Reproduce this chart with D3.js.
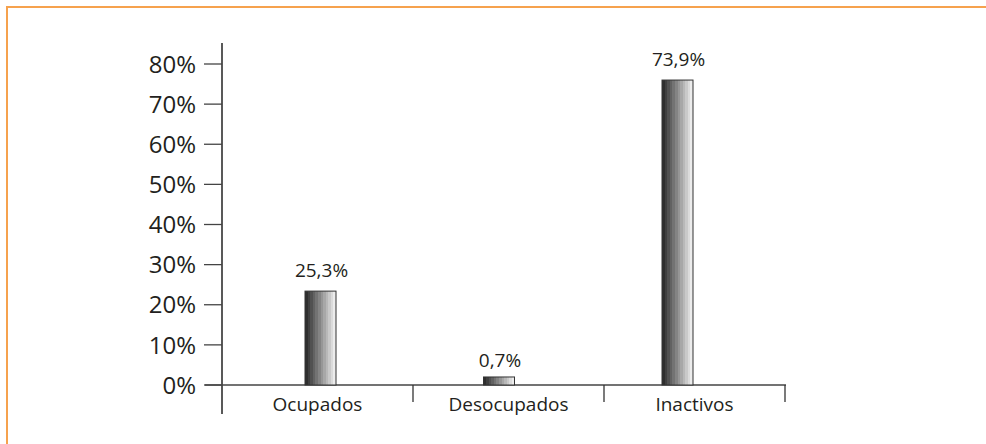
<!DOCTYPE html>
<html>
<head>
<meta charset="utf-8">
<script src="https://cdn.jsdelivr.net/npm/d3@7"></script>
<style>
  html, body { margin: 0; padding: 0; background: #fff; }
  svg { display: block; font-family: "Open Sans", sans-serif; }
</style>
</head>
<body>
<svg id="chart" width="986" height="444"></svg>
<script>
// ---- data ----
const categories = ["Ocupados", "Desocupados", "Inactivos"];
// bar heights as drawn in the picture (percent)
const barValues = [23.4, 2.0, 76.0];
// value labels printed above the bars
const valueLabels = ["25,3%", "0,7%", "73,9%"];
const yTicks = [0, 10, 20, 30, 40, 50, 60, 70, 80];
const yTickLabels = ["0%", "10%", "20%", "30%", "40%", "50%", "60%", "70%", "80%"];

// ---- layout ----
const svg = d3.select("#chart");
const axisX = 222, baseY = 385, topY = 64;
const axisEnd = 785;

const y = d3.scaleLinear().domain([0, 80]).range([baseY, topY]);
const xBand = d3.scaleBand().domain(categories).range([axisX, 795]);
const xBar = d3.scalePoint().domain(categories).range([320.5, 677.5]);
const barW = 31;

// frame (orange)
svg.append("path")
  .attr("d", `M7,444 L7,7 L986,7`)
  .attr("fill", "none")
  .attr("stroke", "#f6a24e")
  .attr("stroke-width", 2);

// gradient (striped)
const defs = svg.append("defs");
const grad = defs.append("linearGradient").attr("id", "stripe")
  .attr("x1", "0%").attr("x2", "100%").attr("y1", "0%").attr("y2", "0%");
const steps = 12;
const col = d3.interpolateRgb("#2e2e2e", "#ececec");
for (let i = 0; i < steps; i++) {
  const c = col(i / (steps - 1));
  grad.append("stop").attr("offset", (i / steps * 100) + "%").attr("stop-color", c);
  grad.append("stop").attr("offset", ((i + 1) / steps * 100) + "%").attr("stop-color", c);
}

// y axis line
svg.append("line")
  .attr("x1", axisX).attr("x2", axisX)
  .attr("y1", 43).attr("y2", 414)
  .attr("stroke", "#222").attr("stroke-width", 1.5);

// y ticks
const yg = svg.append("g");
yg.selectAll("line").data(yTicks).join("line")
  .attr("x1", 204).attr("x2", axisX)
  .attr("y1", d => y(d)).attr("y2", d => y(d))
  .attr("stroke", "#444").attr("stroke-width", 1.3);
yg.selectAll("text").data(yTicks).join("text")
  .attr("x", 196).attr("y", d => y(d))
  .attr("dy", "0.36em")
  .attr("text-anchor", "end")
  .attr("font-size", 24)
  .attr("fill", "#231f20")
  .text((d, i) => yTickLabels[i]);

// x axis line
svg.append("line")
  .attr("x1", 205).attr("x2", axisEnd + 1)
  .attr("y1", baseY).attr("y2", baseY)
  .attr("stroke", "#444").attr("stroke-width", 1.5);

// category boundary ticks
const bounds = categories.map(c => Math.min(xBand(c) + xBand.bandwidth(), axisEnd));
svg.append("g").selectAll("line").data(bounds).join("line")
  .attr("x1", d => d).attr("x2", d => d)
  .attr("y1", baseY).attr("y2", 402)
  .attr("stroke", "#333").attr("stroke-width", 1.3);

// category labels
svg.append("g").selectAll("text").data(categories).join("text")
  .attr("x", (c, i) => (xBand(c) + bounds[i]) / 2)
  .attr("y", 411)
  .attr("text-anchor", "middle")
  .attr("font-size", 19)
  .attr("fill", "#231f20")
  .text(c => c);

// bars
svg.append("g").selectAll("rect").data(categories).join("rect")
  .attr("x", c => xBar(c) - barW / 2)
  .attr("y", (c, i) => y(barValues[i]))
  .attr("width", barW)
  .attr("height", (c, i) => baseY - y(barValues[i]))
  .attr("fill", "url(#stripe)")
  .attr("stroke", "#333").attr("stroke-width", 1);

// value labels
svg.append("g").selectAll("text").data(categories).join("text")
  .attr("x", c => xBar(c) + 1)
  .attr("y", (c, i) => y(barValues[i]) - (barValues[i] < 5 ? 10 : 14))
  .attr("text-anchor", "middle")
  .attr("font-size", 19)
  .attr("fill", "#231f20")
  .text((c, i) => valueLabels[i]);
</script>
</body>
</html>
